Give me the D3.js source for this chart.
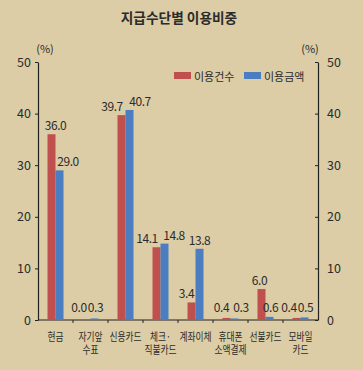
<!DOCTYPE html>
<html>
<head>
<meta charset="utf-8">
<script src="https://cdn.jsdelivr.net/npm/d3@7"></script>
<style>
  body { margin: 0; background: #dccda6; }
  svg { display: block; font-family: "Noto Sans CJK KR", "Noto Sans", sans-serif; }
</style>
</head>
<body>
<div id="chart"></div>
<script>
// data
const categories = ['현금', '자기앞\n수표', '신용카드', '체크·\n직불카드', '계좌이체', '휴대폰\n소액결제', '선불카드', '모바일\n카드'];
const countShare = [36.0, 0.0, 39.7, 14.1, 3.4, 0.4, 6.0, 0.4];
const amountShare = [29.0, 0.3, 40.7, 14.8, 13.8, 0.3, 0.6, 0.5];
const seriesNames = ['이용건수', '이용금액'];
const yTicks = [0, 10, 20, 30, 40, 50];

// label nudges so neighbouring labels don't collide (layout only)
const countLabelDx = [4, -7.5, -9.5, -9.5, -5, -5, -2, -7.5];
const amountLabelDx = [8.5, 1, 10.5, 9.5, 0, 6.5, 1, 1];

const W = 363, H = 370;
const margin = {top: 62, right: 45, bottom: 50, left: 38};
const width = W - margin.left - margin.right;
const height = H - margin.top - margin.bottom;

const colors = ['#c0504d', '#4a7ec0'];
const textColor = '#2b2b2b';

const svg = d3.select('#chart').append('svg')
  .attr('width', W)
  .attr('height', H);

svg.append('rect').attr('width', W).attr('height', H).attr('fill', '#dccda6');

svg.append('text')
  .attr('x', 179).attr('y', 23)
  .attr('text-anchor', 'middle')
  .attr('font-size', 13.7)
  .attr('font-weight', 'bold')
  .attr('fill', textColor)
  .text('지급수단별 이용비중');

const g = svg.append('g')
  .attr('transform', 'translate(' + margin.left + ',' + margin.top + ')');

const x = d3.scaleBand().domain(d3.range(categories.length)).range([0, width]);
const y = d3.scaleLinear().domain([0, 50]).range([height, 0]);
const barW = 8;

// axes
const leftAxis = g.append('g')
  .call(d3.axisLeft(y).tickValues(yTicks).tickSize(3).tickSizeOuter(0).tickPadding(4));
const rightAxis = g.append('g')
  .attr('transform', 'translate(' + width + ',0)')
  .call(d3.axisRight(y).tickValues(yTicks).tickSize(-3).tickSizeOuter(0).tickPadding(9));
[leftAxis, rightAxis].forEach(a => {
  a.select('.domain').attr('stroke', '#222').attr('stroke-width', 1.2);
  a.selectAll('.tick line').attr('stroke', '#222');
  a.selectAll('.tick text').attr('font-size', 12.5).attr('fill', textColor)
    .attr('font-family', '"Noto Sans CJK KR", sans-serif');
});

// bottom baseline with category separators
const bottom = g.append('g').attr('transform', 'translate(0,' + height + ')');
bottom.append('line').attr('x1', 0).attr('x2', width).attr('stroke', '#222').attr('stroke-width', 1.2);
bottom.selectAll('line.sep')
  .data(d3.range(1, categories.length))
  .enter().append('line')
  .attr('class', 'sep')
  .attr('x1', d => x(d)).attr('x2', d => x(d))
  .attr('y1', 0).attr('y2', 3)
  .attr('stroke', '#222');

// category labels, narrowed like the condensed face in the original
const catG = bottom.selectAll('g.cat')
  .data(categories)
  .enter().append('g')
  .attr('class', 'cat')
  .attr('transform', (d, i) => 'translate(' + (x(i) + x.bandwidth() / 2) + ',0) scale(0.76,1)');
catG.append('text')
  .attr('text-anchor', 'middle')
  .attr('font-size', 11.5)
  .attr('fill', textColor)
  .selectAll('tspan')
  .data(d => d.split('\n'))
  .enter().append('tspan')
  .attr('x', 0)
  .attr('y', (l, j) => 21 + j * 13)
  .text(l => l);

// (%) units
svg.append('text').attr('x', 45).attr('y', 53).attr('text-anchor', 'middle')
  .attr('font-size', 11).attr('fill', textColor).text('(%)');
svg.append('text').attr('x', 310).attr('y', 53).attr('text-anchor', 'middle')
  .attr('font-size', 11).attr('fill', textColor).text('(%)');

// bars
const series = [countShare, amountShare];
const dxs = [countLabelDx, amountLabelDx];
series.forEach((vals, s) => {
  const bx = i => x(i) + x.bandwidth() / 2 - barW + s * barW;
  g.append('g').selectAll('rect')
    .data(vals)
    .enter().append('rect')
    .attr('x', (d, i) => bx(i))
    .attr('y', d => y(d))
    .attr('width', barW)
    .attr('height', d => y(0) - y(d))
    .attr('fill', colors[s]);

  g.append('g').selectAll('text')
    .data(vals)
    .enter().append('text')
    .attr('x', (d, i) => bx(i) + barW / 2 + dxs[s][i])
    .attr('y', d => Math.min(y(d) - 4, height - 8))
    .attr('text-anchor', 'middle')
    .attr('font-size', 12)
    .attr('letter-spacing', -0.4)
    .attr('fill', textColor)
    .text(d => d.toFixed(1));
});

// legend
const legend = svg.append('g');
const legendX = [174, 244];
seriesNames.forEach((name, i) => {
  legend.append('rect')
    .attr('x', legendX[i]).attr('y', 72)
    .attr('width', 17).attr('height', 7)
    .attr('fill', colors[i]);
  legend.append('text')
    .attr('x', legendX[i] + 20).attr('y', 80.5)
    .attr('font-size', 11)
    .attr('fill', textColor)
    .text(name);
});
</script>
</body>
</html>
